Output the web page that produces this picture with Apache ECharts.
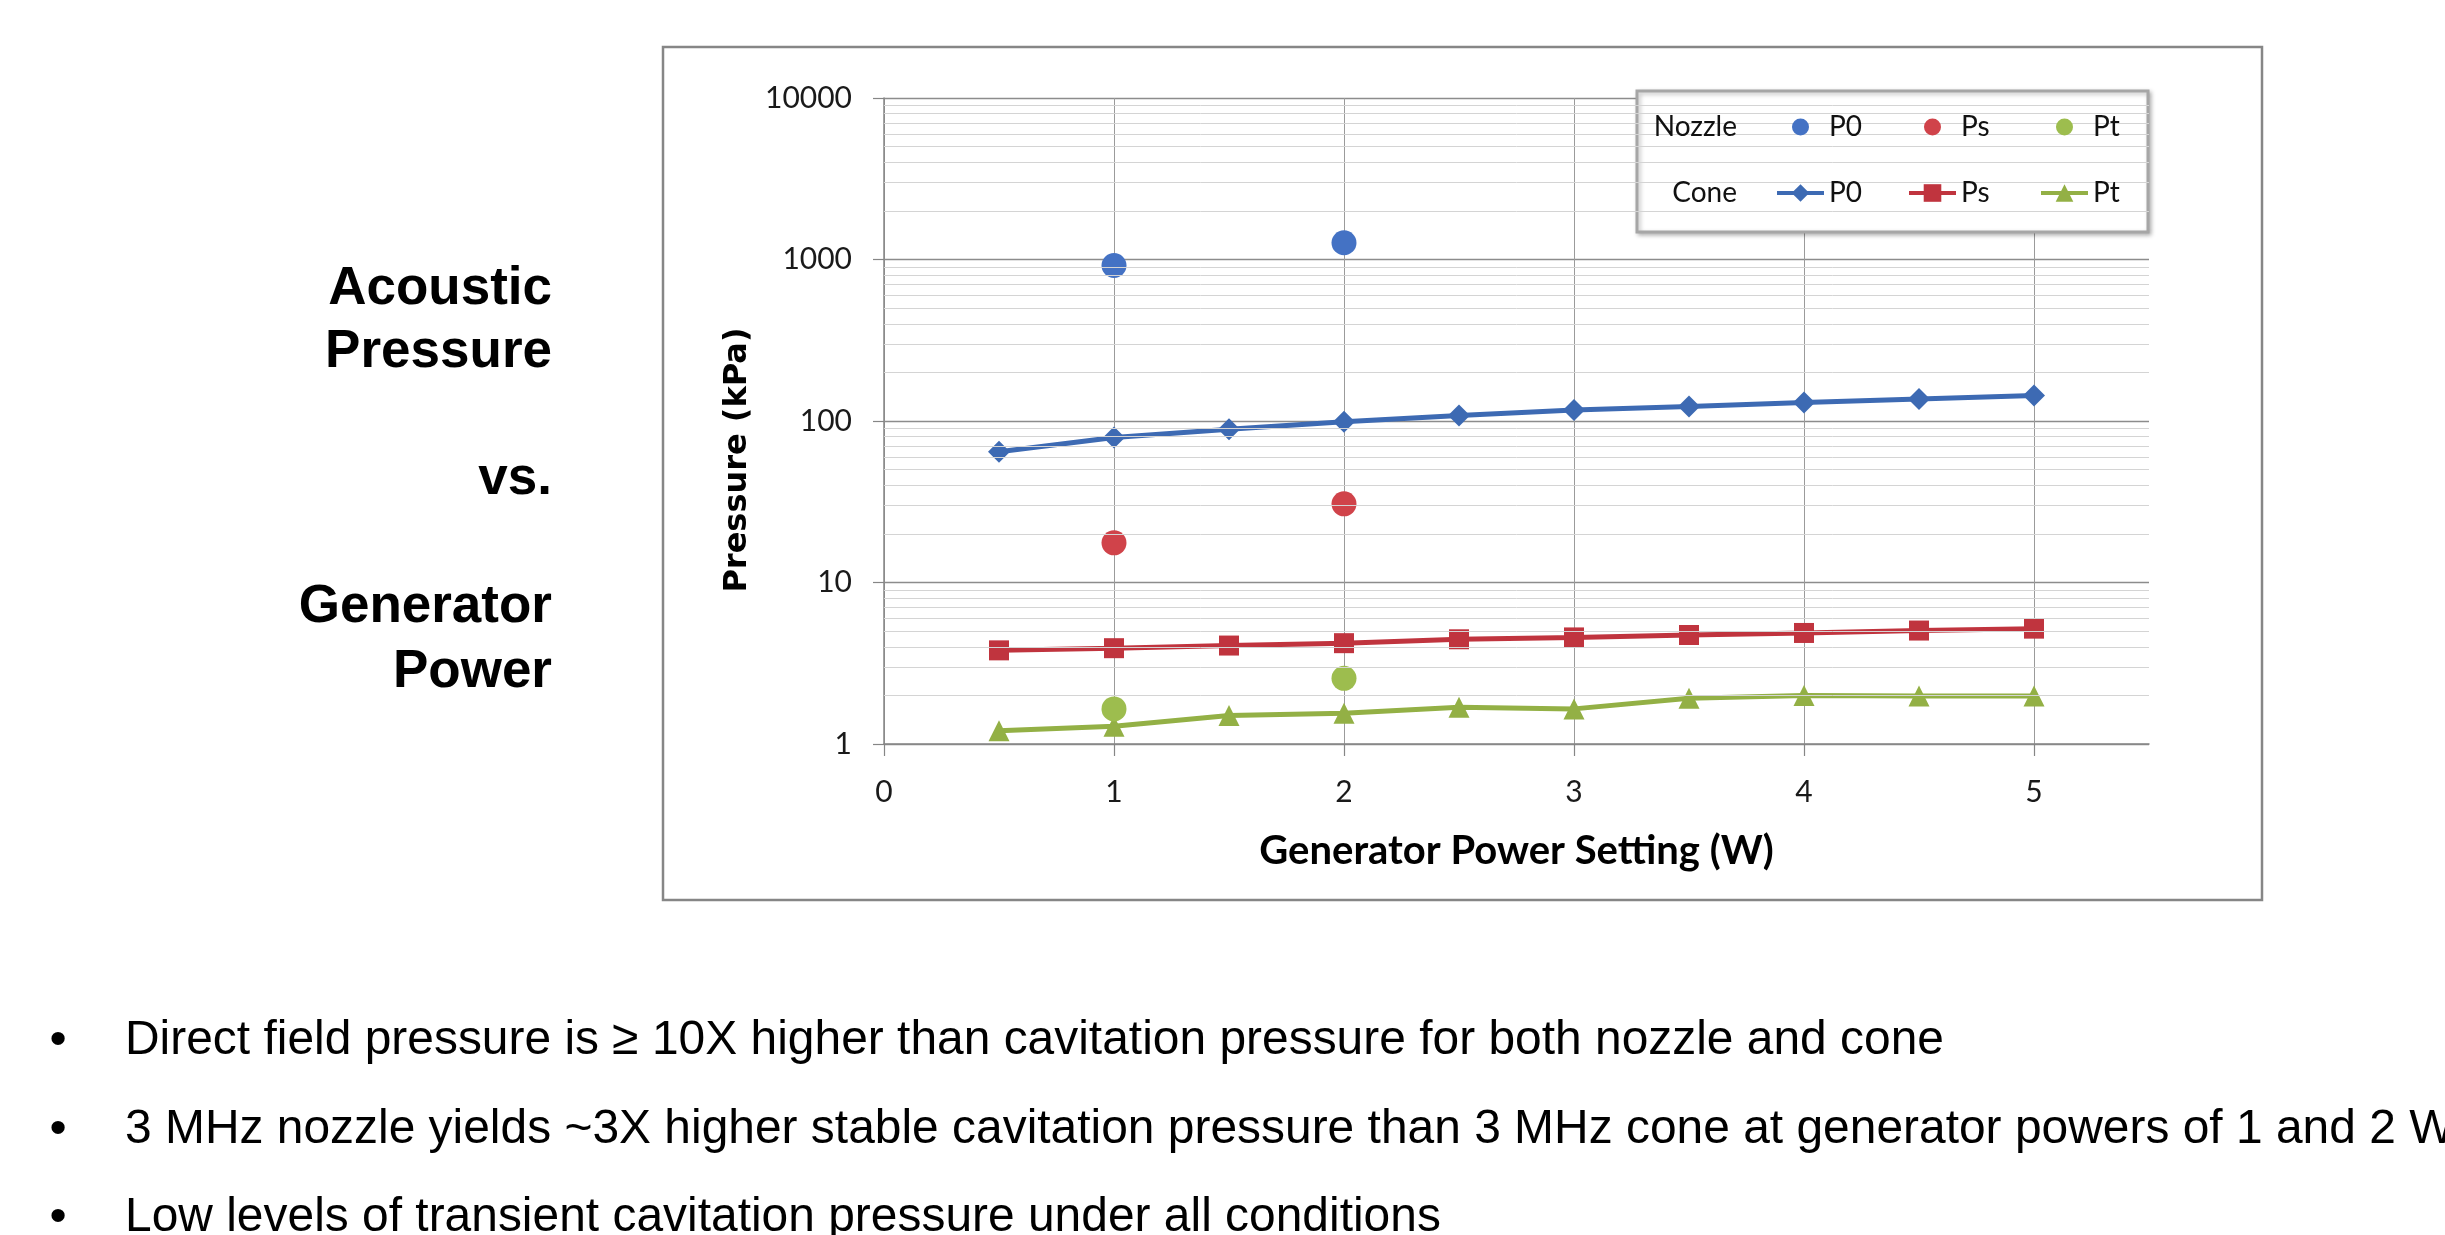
<!DOCTYPE html>
<html>
<head>
<meta charset="utf-8">
<script src="https://cdn.jsdelivr.net/npm/echarts@6/dist/echarts.min.js"></script>
<style>
html,body{margin:0;padding:0;background:#fff;}
#chart{width:2445px;height:1235px;}
</style>
</head>
<body>
<div id="chart"></div>
<script>
// ---- data ----
const powerCone = [0.5, 1, 1.5, 2, 2.5, 3, 3.5, 4, 4.5, 5];
const coneP0 = [64.5, 79, 89, 99, 108, 117, 123, 130, 137, 144];
const conePs = [3.8, 3.92, 4.07, 4.21, 4.45, 4.57, 4.73, 4.87, 5.04, 5.18];
const conePt = [1.21, 1.29, 1.5, 1.55, 1.69, 1.65, 1.92, 2.0, 1.98, 1.98];
const powerNozzle = [1, 2];
const nozzleP0 = [918, 1270];
const nozzlePs = [17.6, 30.7];
const nozzlePt = [1.65, 2.55];
const xTickLabels = [0, 1, 2, 3, 4, 5];
const titleLines = ['Acoustic', 'Pressure', '', 'vs.', '', 'Generator', 'Power'];
const bullets = [
  'Direct field pressure is \u2265 10X higher than cavitation pressure for both nozzle and cone',
  '3 MHz nozzle yields ~3X higher stable cavitation pressure than 3 MHz cone at generator powers of 1 and 2 W',
  'Low levels of transient cavitation pressure under all conditions'
];

const pair = (xs, ys) => xs.map((x, i) => [x, ys[i]]);

// minor log gridlines (2..9 per decade)
const minorVals = [];
[1, 10, 100, 1000].forEach(d => { for (let k = 2; k <= 9; k++) minorVals.push(d * k); });

const C_BLUE = '#3D6AB3', C_RED = '#C0343E', C_GREEN = '#93B045';
const N_BLUE = '#4472C4', N_RED = '#D0434A', N_GREEN = '#9DBD4E';

// measure bullet font width for horizontal condensation
const cv = document.createElement('canvas').getContext('2d');
const bulletFont = '49px "Liberation Sans", Arial, sans-serif';
cv.font = bulletFont;
const bulletScale = 1819 / cv.measureText(bullets[0]).width;

const graphics = [];
// outer chart frame
graphics.push({type:'rect', z:0, shape:{x:663, y:47, width:1599, height:853},
  style:{fill:'none', stroke:'#868686', lineWidth:2.5}});
// legend frame
graphics.push({type:'rect', z:5, shape:{x:1637, y:91, width:511, height:141},
  style:{fill:'#fff', stroke:'#A6A6A6', lineWidth:3, shadowBlur:4, shadowOffsetX:2, shadowOffsetY:2, shadowColor:'rgba(0,0,0,0.25)'}});
graphics.push({type:'text', z:6, x:1737, y:127, style:{text:'Nozzle', font:'28px Lato', fill:'#111', textAlign:'right', textVerticalAlign:'middle'}});
graphics.push({type:'text', z:6, x:1737, y:193, style:{text:'Cone', font:'28px Lato', fill:'#111', textAlign:'right', textVerticalAlign:'middle'}});
// y axis title
graphics.push({type:'text', z:6, x:738, y:460, rotation:Math.PI/2,
  style:{text:'Pressure (kPa)', font:'bold 32px "DejaVu Sans"', fill:'#000', textAlign:'center', textVerticalAlign:'middle'}});
// left title
const titleY = [289.5, 352.5, 416, 479.5, 543.5, 607.5, 672.5];
titleLines.forEach((t, i) => {
  if (!t) return;
  graphics.push({type:'text', x:552, y:titleY[i],
    style:{text:t, font:'bold 53px "Liberation Sans", Arial, sans-serif', fill:'#000', textAlign:'right', textVerticalAlign:'middle'}});
});
// bullets
const bulletY = [1040.5, 1129.5, 1217.5];
bullets.forEach((t, i) => {
  graphics.push({type:'text', x:58, y:bulletY[i],
    style:{text:'\u2022', font:bulletFont, fill:'#000', textAlign:'center', textVerticalAlign:'middle'}});
  graphics.push({type:'text', x:125, y:bulletY[i], scaleX:bulletScale,
    style:{text:t, font:bulletFont, fill:'#000', textAlign:'left', textVerticalAlign:'middle'}});
});

const chart = echarts.init(document.getElementById('chart'));
const legendText = {fontFamily:'Lato', fontSize:28, color:'#111', width:60, lineHeight:30};
chart.setOption({
  animation:false,
  backgroundColor:'#fff',
  grid:{left:884, top:98, width:1265, height:646, containLabel:false},
  legend:[
    {orient:'horizontal', left:1792, top:112, itemWidth:47, itemHeight:17, itemGap:35, padding:0,
     selectedMode:false, z:10, formatter: n => n.split(' ')[1], textStyle:legendText,
     data:['Nozzle P0','Nozzle Ps','Nozzle Pt']},
    {orient:'horizontal', left:1775, top:178, itemWidth:47, itemHeight:22, itemGap:18, padding:0,
     selectedMode:false, z:10, formatter: n => n.split(' ')[1], textStyle:legendText,
     lineStyle:{width:4}, data:['Cone P0','Cone Ps','Cone Pt']}
  ],
  xAxis:{
    type:'value', min:0, max:5.5, interval:0.5,
    name:'Generator Power Setting (W)', nameLocation:'middle', nameGap:87,
    nameTextStyle:{fontFamily:'Lato', fontWeight:'bold', fontSize:40, color:'#000'},
    axisLine:{show:true, lineStyle:{color:'#868686', width:1.5}},
    axisTick:{show:true, inside:false, length:12, customValues:xTickLabels, lineStyle:{color:'#868686', width:1.2}},
    axisLabel:{customValues:xTickLabels, margin:33, fontFamily:'Lato', fontSize:30, color:'#1a1a1a'},
    splitLine:{show:true, lineStyle:{color:'#9b9b9b', width:1}}
  },
  yAxis:{
    type:'log', logBase:10, min:1, max:10000,
    axisLine:{show:true, lineStyle:{color:'#868686', width:1.5}},
    axisTick:{show:true, inside:false, length:11, lineStyle:{color:'#868686', width:1.2}},
    axisLabel:{margin:32, fontFamily:'Lato', fontSize:30, color:'#1a1a1a', formatter: v => String(Math.round(v))},
    splitLine:{show:true, lineStyle:{color:'#8c8c8c', width:1.3}}
  },
  graphic: graphics,
  series:[
    {name:'Cone P0', type:'line', data:pair(powerCone, coneP0), symbol:'diamond', symbolSize:22,
     color:C_BLUE, lineStyle:{width:5, color:C_BLUE}, itemStyle:{color:C_BLUE, opacity:1}, z:3,
     markLine:{silent:true, symbol:['none','none'], label:{show:false}, animation:false,
       lineStyle:{color:'#d4d4d4', width:1, type:'solid'}, emphasis:{disabled:true},
       data:minorVals.map(v => ({yAxis:v}))}},
    {name:'Cone Ps', type:'line', data:pair(powerCone, conePs), symbol:'rect', symbolSize:20,
     color:C_RED, lineStyle:{width:5, color:C_RED}, itemStyle:{color:C_RED, opacity:1}, z:3},
    {name:'Cone Pt', type:'line', data:pair(powerCone, conePt), symbol:'triangle', symbolSize:21,
     color:C_GREEN, lineStyle:{width:5, color:C_GREEN}, itemStyle:{color:C_GREEN, opacity:1}, z:3},
    {name:'Nozzle P0', type:'scatter', data:pair(powerNozzle, nozzleP0), symbol:'circle', symbolSize:25,
     color:N_BLUE, itemStyle:{color:N_BLUE, opacity:1}, z:4},
    {name:'Nozzle Ps', type:'scatter', data:pair(powerNozzle, nozzlePs), symbol:'circle', symbolSize:25,
     color:N_RED, itemStyle:{color:N_RED, opacity:1}, z:4},
    {name:'Nozzle Pt', type:'scatter', data:pair(powerNozzle, nozzlePt), symbol:'circle', symbolSize:25,
     color:N_GREEN, itemStyle:{color:N_GREEN, opacity:1}, z:4}
  ]
});
</script>
</body>
</html>
